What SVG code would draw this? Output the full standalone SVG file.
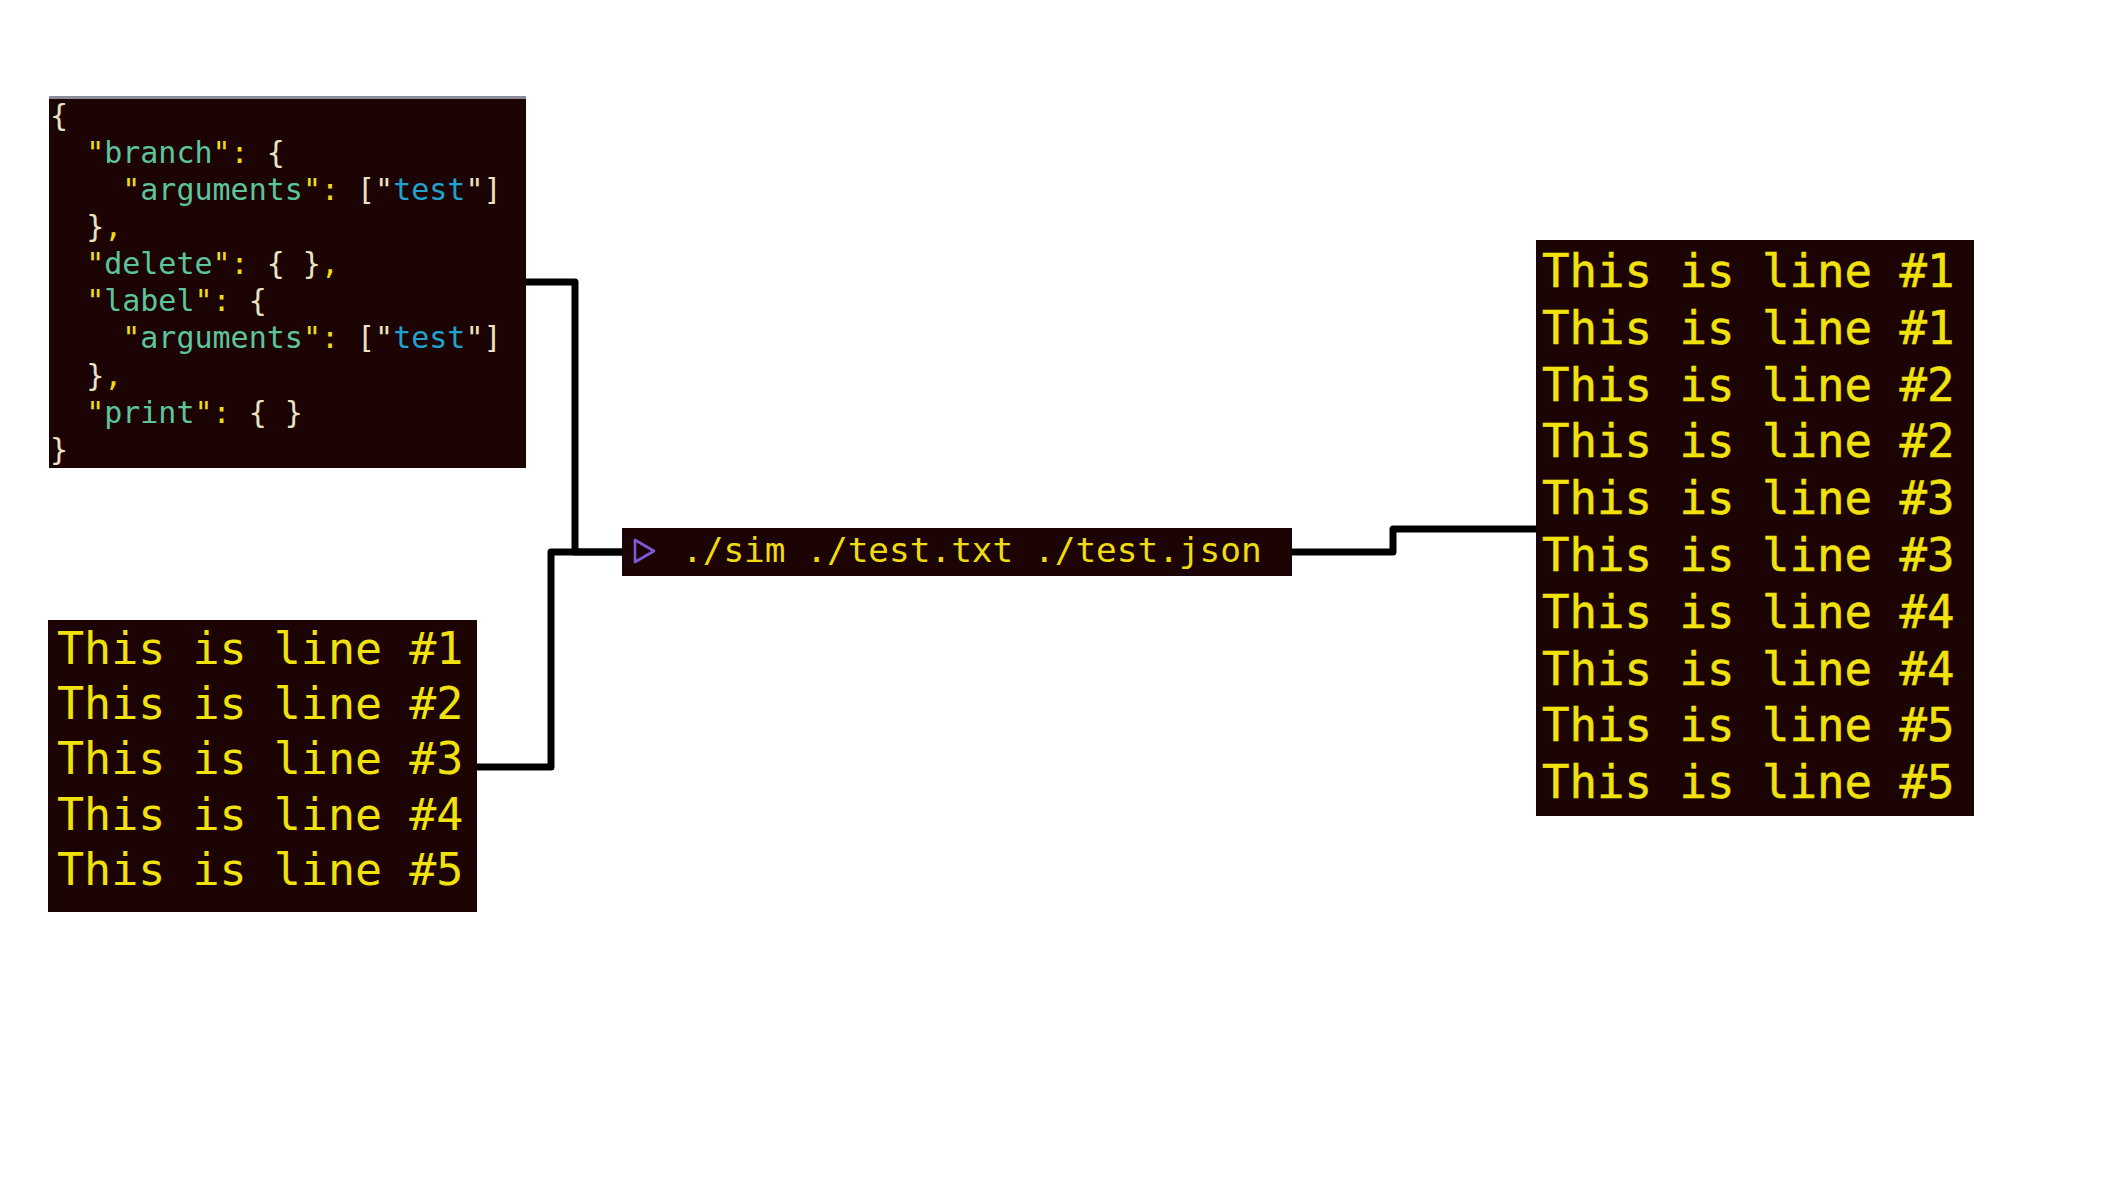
<svg xmlns="http://www.w3.org/2000/svg" width="2117" height="1191" viewBox="0 0 2117 1191">
<style>
.box{fill:#1c0404}
.mono{font-family:"DejaVu Sans Mono","Liberation Mono",monospace;white-space:pre}
.json{font-size:30px}
.y{fill:#f0dc0c}
.g{fill:#5ec49c}
.b{fill:#20a2cc}
.c{fill:#ece2c2}
.out{font-size:45px;fill:#f2e20c}
.outr{font-size:45.7px;fill:#f2e20c;stroke:#f2e20c;stroke-width:0.5}
.cmd{font-size:34.4px;fill:#eedc10}
.conn{fill:none;stroke:#000;stroke-width:7;stroke-linejoin:round}
</style>
<rect x="0" y="0" width="2117" height="1191" fill="#ffffff"/>
<g id="connectors">
<path class="conn" d="M 526 282 H 575 V 552 H 622"/>
<path class="conn" d="M 477 767 H 551 V 552 H 622"/>
<path class="conn" d="M 1292 552 H 1393 V 529 H 1536"/>
</g>
<g id="json">
<rect class="box" x="49" y="96" width="477" height="372"/>
<rect x="49" y="96" width="477" height="3" fill="#8a8a98"/>
<text class="mono json" xml:space="preserve" x="50" y="126"><tspan class="c">{</tspan></text>
<text class="mono json" xml:space="preserve" x="50" y="163">  <tspan class="y">"</tspan><tspan class="g">branch</tspan><tspan class="y">":</tspan><tspan class="c"> {</tspan></text>
<text class="mono json" xml:space="preserve" x="50" y="200">    <tspan class="y">"</tspan><tspan class="g">arguments</tspan><tspan class="y">":</tspan><tspan class="c"> ["</tspan><tspan class="b">test</tspan><tspan class="c">"]</tspan></text>
<text class="mono json" xml:space="preserve" x="50" y="237">  <tspan class="c">}</tspan><tspan class="y">,</tspan></text>
<text class="mono json" xml:space="preserve" x="50" y="274">  <tspan class="y">"</tspan><tspan class="g">delete</tspan><tspan class="y">":</tspan><tspan class="c"> { }</tspan><tspan class="y">,</tspan></text>
<text class="mono json" xml:space="preserve" x="50" y="311">  <tspan class="y">"</tspan><tspan class="g">label</tspan><tspan class="y">":</tspan><tspan class="c"> {</tspan></text>
<text class="mono json" xml:space="preserve" x="50" y="348">    <tspan class="y">"</tspan><tspan class="g">arguments</tspan><tspan class="y">":</tspan><tspan class="c"> ["</tspan><tspan class="b">test</tspan><tspan class="c">"]</tspan></text>
<text class="mono json" xml:space="preserve" x="50" y="386">  <tspan class="c">}</tspan><tspan class="y">,</tspan></text>
<text class="mono json" xml:space="preserve" x="50" y="423">  <tspan class="y">"</tspan><tspan class="g">print</tspan><tspan class="y">":</tspan><tspan class="c"> { }</tspan></text>
<text class="mono json" xml:space="preserve" x="50" y="460"><tspan class="c">}</tspan></text>
</g>
<g id="input">
<rect class="box" x="48" y="620" width="429" height="292"/>
<text class="mono out" xml:space="preserve" x="57" y="664">This is line #1</text>
<text class="mono out" xml:space="preserve" x="57" y="719">This is line #2</text>
<text class="mono out" xml:space="preserve" x="57" y="774">This is line #3</text>
<text class="mono out" xml:space="preserve" x="57" y="830">This is line #4</text>
<text class="mono out" xml:space="preserve" x="57" y="885">This is line #5</text>
</g>
<g id="command">
<rect class="box" x="622" y="528" width="670" height="48"/>
<path d="M 635 540 L 654 551 L 635 562 Z" fill="none" stroke="#7b5cd6" stroke-width="2.6" stroke-linejoin="round"/>
<text class="mono cmd" xml:space="preserve" x="682" y="562">./sim ./test.txt ./test.json</text>
</g>
<g id="output">
<rect class="box" x="1536" y="240" width="438" height="576"/>
<text class="mono outr" xml:space="preserve" x="1542" y="287">This is line #1</text>
<text class="mono outr" xml:space="preserve" x="1542" y="344">This is line #1</text>
<text class="mono outr" xml:space="preserve" x="1542" y="401">This is line #2</text>
<text class="mono outr" xml:space="preserve" x="1542" y="457">This is line #2</text>
<text class="mono outr" xml:space="preserve" x="1542" y="514">This is line #3</text>
<text class="mono outr" xml:space="preserve" x="1542" y="571">This is line #3</text>
<text class="mono outr" xml:space="preserve" x="1542" y="628">This is line #4</text>
<text class="mono outr" xml:space="preserve" x="1542" y="685">This is line #4</text>
<text class="mono outr" xml:space="preserve" x="1542" y="741">This is line #5</text>
<text class="mono outr" xml:space="preserve" x="1542" y="798">This is line #5</text>
</g>
</svg>
